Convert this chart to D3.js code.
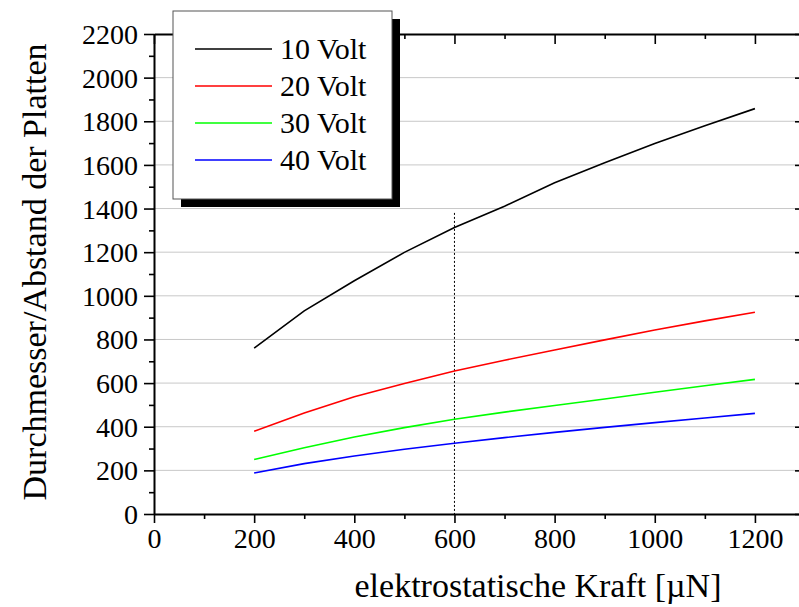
<!DOCTYPE html>
<html>
<head>
<meta charset="utf-8">
<script src="https://cdn.jsdelivr.net/npm/d3@7"></script>
<style>
  body { margin: 0; background: #fff; }
</style>
</head>
<body>
<div id="chart"></div>
<script>
const svgWidth = 799;
const svgHeight = 607;
const serif = "Liberation Serif";

// data
const kraft = [200, 300, 400, 500, 600, 700, 800, 900, 1000, 1100, 1200];
const volt10 = [760, 931, 1069, 1199, 1313, 1411, 1518, 1610, 1698, 1780, 1858];
const volt20 = [379, 463, 537, 598, 655, 705, 752, 798, 843, 885, 925];
const volt30 = [250, 304, 353, 396, 434, 467, 497, 527, 558, 588, 617];
const volt40 = [188, 231, 266, 297, 324, 350, 374, 397, 419, 440, 461];
const seriesNames = ["10 Volt", "20 Volt", "30 Volt", "40 Volt"];
const seriesColors = ["#000000", "#ff0000", "#00ff00", "#0000ff"];
const xTicks = [0, 200, 400, 600, 800, 1000, 1200];
const yTicks = [0, 200, 400, 600, 800, 1000, 1200, 1400, 1600, 1800, 2000, 2200];
const markerX = 600;
const markerTop = 1380;

const allSeries = [volt10, volt20, volt30, volt40];

const plot = { left: 154, right: 805, top: 34, bottom: 514 };

const svg = d3.select("#chart")
    .append("svg")
    .attr("width", svgWidth)
    .attr("height", svgHeight)
    .attr("font-family", serif);

const xLinear = d3.scaleLinear().domain([0, 1300]).range([plot.left, plot.right]);
const yLinear = d3.scaleLinear().domain([0, 2200]).range([plot.bottom, plot.top]);

// horizontal grid
svg.append("g")
    .selectAll("line")
    .data(yTicks.filter(d => d > 0 && d < 2200))
    .enter()
    .append("line")
    .attr("x1", plot.left)
    .attr("x2", plot.right)
    .attr("y1", d => yLinear(d))
    .attr("y2", d => yLinear(d))
    .attr("stroke", "#c8c8c8")
    .attr("stroke-width", 1);

// dotted marker at 600
svg.append("line")
    .attr("x1", xLinear(markerX))
    .attr("x2", xLinear(markerX))
    .attr("y1", yLinear(markerTop))
    .attr("y2", yLinear(0))
    .attr("stroke", "#000")
    .attr("stroke-width", 1)
    .attr("stroke-dasharray", "2,2");

// curves
const line = d3.line()
    .x((d, i) => xLinear(kraft[i]))
    .y(d => yLinear(d));

svg.append("g")
    .selectAll("path")
    .data(allSeries)
    .enter()
    .append("path")
    .attr("d", d => line(d))
    .attr("fill", "none")
    .attr("stroke", (d, i) => seriesColors[i])
    .attr("stroke-width", 1.6);

// axes
const xMinor = d3.range(0, 1301, 100);
const yMinor = d3.range(0, 2201, 100);

function styleAxis(g) {
    g.attr("font-family", serif).attr("font-size", 28);
    g.select(".domain").attr("stroke-width", 2).attr("stroke", "#000");
    g.selectAll(".tick line").attr("stroke-width", 1.6).attr("stroke", "#000");
    g.selectAll(".tick text").attr("fill", "#000");
}

// bottom
const bottomAxis = svg.append("g")
    .attr("transform", `translate(0, ${plot.bottom})`)
    .call(d3.axisBottom(xLinear).tickValues(xMinor)
        .tickSize(5).tickSizeOuter(0)
        .tickFormat(d => xTicks.includes(d) ? d : ""));
bottomAxis.selectAll(".tick line").attr("y2", d => xTicks.includes(d) ? 9 : 5);
bottomAxis.selectAll(".tick text").attr("y", 14);
styleAxis(bottomAxis);

// top
const topAxis = svg.append("g")
    .attr("transform", `translate(0, ${plot.top})`)
    .call(d3.axisBottom(xLinear).tickValues(xMinor)
        .tickSize(5).tickSizeOuter(0).tickFormat(""));
topAxis.selectAll(".tick line").attr("y2", d => d % 200 === 0 ? 10 : 5);
styleAxis(topAxis);

// left
const leftAxis = svg.append("g")
    .attr("transform", `translate(${plot.left}, 0)`)
    .call(d3.axisLeft(yLinear).tickValues(yMinor)
        .tickSize(5).tickSizeOuter(0)
        .tickFormat(d => yTicks.includes(d) ? d : ""));
leftAxis.selectAll(".tick line").attr("x2", d => yTicks.includes(d) ? -10 : -5);
leftAxis.selectAll(".tick text").attr("x", -16).attr("dy", "0.34em");
styleAxis(leftAxis);

// right
const rightAxis = svg.append("g")
    .attr("transform", `translate(${plot.right}, 0)`)
    .call(d3.axisLeft(yLinear).tickValues(yMinor)
        .tickSize(5).tickSizeOuter(0).tickFormat(""));
rightAxis.selectAll(".tick line").attr("x2", d => d % 200 === 0 ? -10 : -5);
styleAxis(rightAxis);

// axis titles
svg.append("text")
    .attr("x", 538)
    .attr("y", 597)
    .attr("text-anchor", "middle")
    .attr("font-size", 34)
    .text("elektrostatische Kraft [µN]");

svg.append("text")
    .attr("transform", "rotate(-90)")
    .attr("x", -272)
    .attr("y", 46)
    .attr("text-anchor", "middle")
    .attr("font-size", 34)
    .text("Durchmesser/Abstand der Platten");

// legend
const legend = svg.append("g");
legend.append("rect")
    .attr("x", 181).attr("y", 19)
    .attr("width", 219).attr("height", 188)
    .attr("fill", "#000");
legend.append("rect")
    .attr("x", 173).attr("y", 11)
    .attr("width", 219).attr("height", 188)
    .attr("fill", "#fff")
    .attr("stroke", "#555")
    .attr("stroke-width", 1);

const legendRows = legend.selectAll("g.row")
    .data(seriesNames)
    .enter()
    .append("g")
    .attr("class", "row")
    .attr("transform", (d, i) => `translate(0, ${49 + i * 37})`);

legendRows.append("line")
    .attr("x1", 195).attr("x2", 272)
    .attr("y1", 0).attr("y2", 0)
    .attr("stroke", (d, i) => seriesColors[i])
    .attr("stroke-width", 1.6);

legendRows.append("text")
    .attr("x", 280)
    .attr("y", 10)
    .attr("font-size", 30)
    .text(d => d);

svg.selectAll("text").style("font-family", serif);
</script>
</body>
</html>
